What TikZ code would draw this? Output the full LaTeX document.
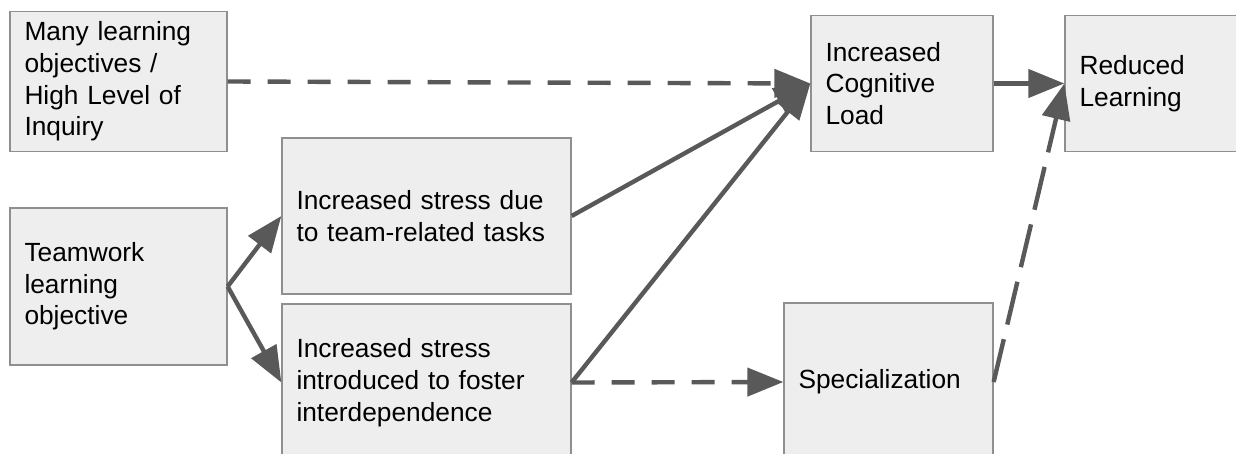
\documentclass[tikz,border=0pt]{standalone}
\usepackage{fontspec}
\setmainfont{Liberation Sans}
\usetikzlibrary{arrows.meta}
\definecolor{boxfill}{HTML}{EEEEEE}
\definecolor{boxline}{HTML}{8F8F8F}
\definecolor{arrowc}{HTML}{595959}
\tikzset{
  box/.style={draw=boxline, line width=1.3pt, fill=boxfill, rectangle, align=left,
    inner xsep=14.5pt, inner ysep=0pt, anchor=center,
    font=\fontsize{26.3}{31.7}\selectfont},
  conn/.style={draw=arrowc, line width=4.4pt, -{Triangle[length=36pt,width=28pt]}},
  shortdash/.style={dash pattern=on 23pt off 17pt},
  longdash/.style={dash pattern=on 44pt off 15pt},
}
\newcommand{\boxnode}[6]{% name, cx, cy, w, h, text
  \node[box, minimum width=#4pt, minimum height=#5pt, text width=#4pt-29pt] (#1) at (#2,#3) {#6};}
\begin{document}
\begin{tikzpicture}[x=1pt,y=-1pt]
\useasboundingbox (0,0) rectangle (1236,454);
\boxnode{b1}{118.5}{81.5}{217}{140}{Many learning\\objectives /\\High Level of\\Inquiry}
\boxnode{tw}{118.5}{286.5}{217}{157}{Teamwork\\learning\\objective}
\boxnode{s1}{426.5}{216}{289}{156}{Increased stress due\\to team-related tasks}
\boxnode{s2}{426.5}{382.5}{289}{157}{Increased stress\\introduced to foster\\interdependence}
\boxnode{cl}{902}{83.5}{182}{136}{Increased\\Cognitive\\Load}
\boxnode{rl}{1155}{83.5}{180}{136}{Reduced\\Learning}
\boxnode{sp}{888.5}{382}{209}{158}{Specialization}
\draw[conn, shortdash] (b1.east) -- (cl.west);
\draw[conn] (s1.east) -- (cl.west);
\draw[conn] (s2.east) -- (cl.west);
\draw[conn] (cl.east) -- (rl.west);
\draw[conn] (tw.east) -- (s1.west);
\draw[conn] (tw.east) -- (s2.west);
\draw[conn, shortdash] (s2.east) -- (sp.west);
\draw[conn, longdash] (sp.east) -- (rl.west);
\end{tikzpicture}
\end{document}
